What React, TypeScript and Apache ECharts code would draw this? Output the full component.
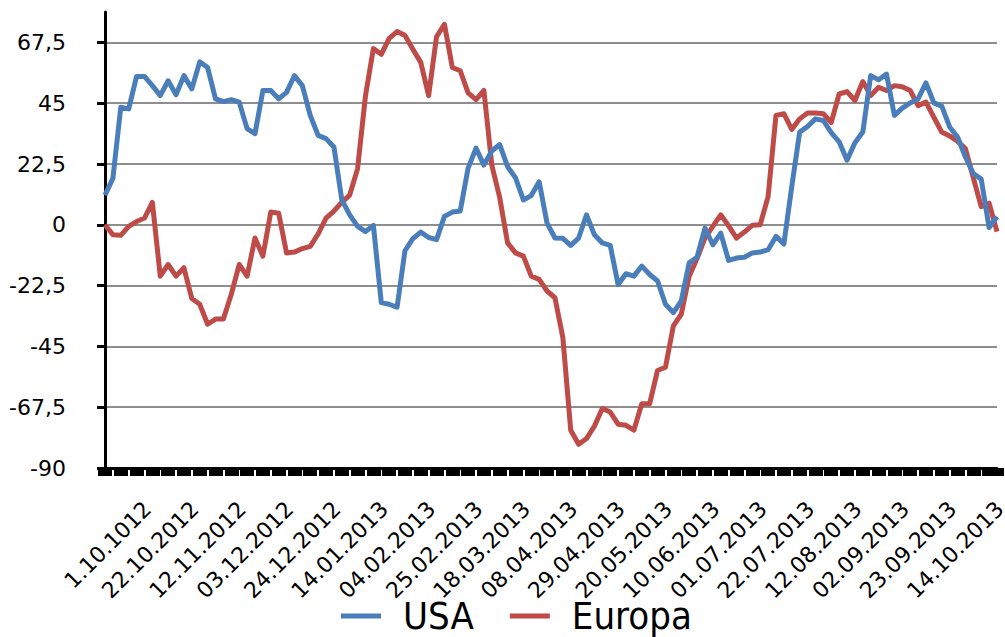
import React, { useEffect, useRef } from "react";
import * as echarts from "echarts";

const tickLabels = [
  "1.10.1012", "22.10.2012", "12.11.2012", "03.12.2012", "24.12.2012",
  "14.01.2013", "04.02.2013", "25.02.2013", "18.03.2013", "08.04.2013",
  "29.04.2013", "20.05.2013", "10.06.2013", "01.07.2013", "22.07.2013",
  "12.08.2013", "02.09.2013", "23.09.2013", "14.10.2013",
];

const usa = [
  11.0, 17.2, 43.5, 42.9, 54.9, 54.9, 51.5, 47.8, 53.3, 48.1,
  55.2, 50.3, 60.3, 58.2, 46.6, 45.6, 46.3, 45.4, 35.6, 33.7,
  49.7, 49.7, 46.6, 49.0, 55.2, 51.5, 40.5, 33.1, 31.9, 28.8,
  9.2, 3.7, -0.6, -2.5, -0.2, -28.8, -29.4, -30.5, -9.6, -5.1,
  -2.7, -4.7, -5.5, 3.1, 4.7, 5.1, 21.0, 28.4, 22.1, 27.3,
  29.7, 21.5, 17.4, 9.2, 10.8, 15.9, 0.6, -4.9, -5.0, -7.6,
  -4.9, 3.7, -3.7, -6.7, -7.6, -22.1, -18.1, -19.0, -15.3, -18.4,
  -20.8, -29.4, -32.5, -28.2, -14.1, -12.0, -1.2, -7.4, -3.1, -13.2,
  -12.3, -12.0, -10.4, -10.1, -9.2, -4.3, -7.1, 14.1, 34.3, 36.4,
  39.2, 38.6, 34.1, 30.7, 23.9, 30.4, 34.3, 55.2, 53.7, 55.8,
  40.5, 43.2, 45.1, 46.6, 52.5, 45.1, 43.9, 36.2, 32.5, 25.1,
  19.0, 16.9, -1.0, 3.0,
];

const europa = [
  0, -3.7, -3.9, -0.6, 1.2, 2.5, 8.3, -19.0, -14.7, -19.0,
  -15.9, -27.3, -29.4, -36.8, -34.9, -34.9, -25.7, -14.7, -19.0, -4.9,
  -11.6, 4.7, 4.3, -10.4, -10.1, -8.8, -8.0, -3.4, 2.5, 5.1,
  8.3, 11.0, 20.8, 47.8, 65.2, 63.1, 69.0, 71.5, 70.1, 65.0,
  60.1, 47.8, 69.6, 74.2, 58.2, 57.0, 48.8, 46.3, 49.7, 22.1,
  10.1, -6.7, -10.4, -11.6, -19.0, -20.2, -24.5, -27.0, -41.7, -76.0,
  -81.2, -79.1, -74.5, -68.0, -69.3, -73.8, -74.2, -76.0, -66.2, -66.2,
  -53.9, -52.7, -37.4, -33.1, -19.0, -12.5, -4.9, -0.6, 3.7, -0.4,
  -4.9, -2.7, -0.2, 0, 10.4, 40.5, 41.1, 35.3, 39.2, 41.4,
  41.4, 41.1, 37.8, 48.4, 49.3, 46.0, 53.0, 47.8, 50.9, 49.7,
  51.5, 51.1, 49.7, 44.1, 45.4, 39.8, 34.3, 32.9, 30.9, 28.2,
  17.4, 6.7, 8.0, -2.5,
];

const yTicks = [-90, -67.5, -45, -22.5, 0, 22.5, 45, 67.5];
const labelEvery = 6;
const categories = usa.map((_, i) => String(i));

export default function App() {
  const ref = useRef<HTMLDivElement>(null);
  useEffect(() => {
    if (!ref.current) return;
    const chart = echarts.init(ref.current, null, { renderer: "svg" });
    chart.setOption({
      animation: false,
      backgroundColor: "#ffffff",
      grid: {
        left: 105,
        right: 8,
        top: 12,
        bottom: 169,
        containLabel: false,
        outerBoundsMode: "none",
      },
      legend: {
        left: 336,
        top: 592,
        icon: "rect",
        itemWidth: 40,
        itemHeight: 5,
        itemGap: 36,
        data: ["USA", "Europa"],
        textStyle: {
          fontFamily: "DejaVu Sans Condensed",
          fontSize: 38,
          color: "#000",
          padding: [0, 0, 0, 17],
        },
      },
      xAxis: {
        type: "category",
        data: categories,
        boundaryGap: false,
        axisLine: { show: true, onZero: false, lineStyle: { color: "#000", width: 3 } },
        axisTick: {
          show: true,
          interval: 1,
          length: 8,
          inside: false,
          lineStyle: { color: "#000", width: 14 },
        },
        axisLabel: {
          interval: 0,
          formatter: (_v: string, index: number) =>
            index % labelEvery === 0 ? tickLabels[index / labelEvery] ?? "" : "",
          showMinLabel: true,
          showMaxLabel: true,
          hideOverlap: false,
          rotate: 45,
          margin: -5,
          align: "right",
          verticalAlign: "top",
          lineHeight: 120,
          fontFamily: "DejaVu Sans",
          fontSize: 22,
          color: "#000",
        },
        splitLine: { show: false },
      },
      yAxis: {
        type: "value",
        min: -90,
        max: 78.75,
        interval: 22.5,
        axisLine: { show: true, lineStyle: { color: "#000", width: 3 } },
        axisTick: {
          show: true,
          length: 8,
          customValues: yTicks,
          lineStyle: { color: "#000", width: 3 },
        },
        axisLabel: {
          margin: 39,
          fontFamily: "DejaVu Sans",
          fontSize: 22,
          color: "#000",
          formatter: (v: number) =>
            yTicks.includes(v) ? String(v).replace(".", ",") : "",
        },
        splitLine: { show: true, lineStyle: { color: "#8e8e8e", width: 2 } },
      },
      series: [
        {
          name: "Europa",
          type: "line",
          data: europa,
          showSymbol: false,
          symbol: "none",
          z: 3,
          lineStyle: { color: "#be4b48", width: 5, join: "round" },
          itemStyle: { color: "#be4b48" },
        },
        {
          name: "USA",
          type: "line",
          data: usa,
          showSymbol: false,
          symbol: "none",
          z: 4,
          lineStyle: { color: "#4a7ebb", width: 5, join: "round" },
          itemStyle: { color: "#4a7ebb" },
        },
      ],
    });
    return () => chart.dispose();
  }, []);
  return (
    <div
      ref={ref}
      style={{ position: "absolute", left: 0, top: 0, width: 1005, height: 637 }}
    />
  );
}
